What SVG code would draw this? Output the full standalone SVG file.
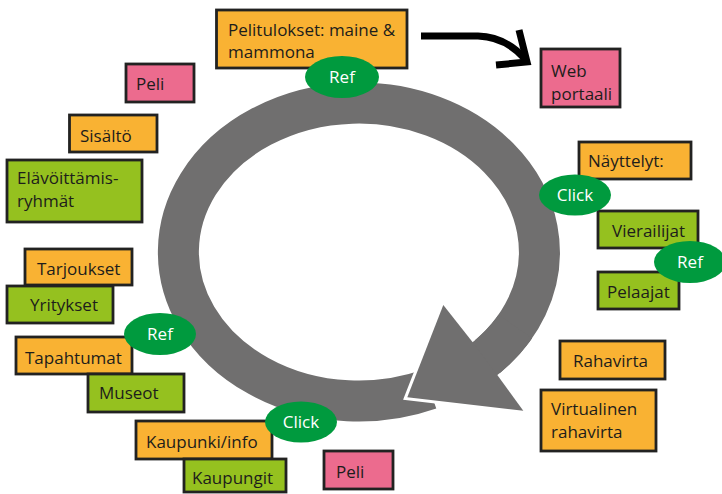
<svg xmlns="http://www.w3.org/2000/svg" width="722" height="494" viewBox="0 0 722 494">
  <style>
    .box { stroke: #222221; stroke-width: 2.8; }
    .orange { fill: #F9B233; }
    .green { fill: #95C11F; }
    .pink { fill: #EC6B8E; }
    .lbl { font-family: "Open Sans", "Noto Sans", sans-serif; font-size: 17px; fill: #1D1D1B; }
    .tag { fill: #009A3E; }
    .tagtxt { font-family: "Open Sans", "Noto Sans", sans-serif; font-size: 17px; fill: #FFFFFF; text-anchor: middle; }
    .ring { fill: none; stroke: #706F6F; stroke-width: 41; }
  </style>

  <!-- connectors: the big cycle arrow and the link arrow to the web portal -->
  <g id="connectors">
    <path class="ring" d="M429.5,389.2 A180.5,149 0 1 1 479.8,362.7"/>
    <polygon points="443.3,305 472.7,342.3 497.3,375 523.3,410.7 407.3,397.3" fill="#706F6F" stroke="#FFFFFF" stroke-width="6" stroke-linejoin="miter"/>
    <path class="ring" d="M515.3,326.5 A180.5,149 0 0 1 479.8,362.7"/>
    <polygon points="443.3,305 472.7,342.3 497.3,375 523.3,410.7 407.3,397.3" fill="#706F6F"/>
    <path d="M421,36 L478,36 Q506,37 525,59" fill="none" stroke="#000" stroke-width="7"/>
    <path d="M519,30 L527,62 L496,65" fill="none" stroke="#000" stroke-width="7" stroke-linejoin="miter"/>
  </g>

  <g id="pelitulokset">
    <rect class="box orange" x="216.5" y="10" width="190.5" height="58"/>
    <text class="lbl" x="228" y="36">Pelitulokset: maine &amp;</text>
    <text class="lbl" x="228" y="58">mammona</text>
  </g>
  <g id="webportaali">
    <rect class="box pink" x="541" y="49" width="79" height="58"/>
    <text class="lbl" x="551" y="77">Web</text>
    <text class="lbl" x="551" y="100">portaali</text>
  </g>
  <g id="peli-top">
    <rect class="box pink" x="126" y="64" width="68" height="38"/>
    <text class="lbl" x="136" y="90">Peli</text>
  </g>
  <g id="sisalto">
    <rect class="box orange" x="69.5" y="115" width="87.5" height="37"/>
    <text class="lbl" x="80" y="142">Sisältö</text>
  </g>
  <g id="elavoittamis">
    <rect class="box green" x="7" y="160" width="135" height="62"/>
    <text class="lbl" x="17" y="184">Elävöittämis-</text>
    <text class="lbl" x="17" y="207">ryhmät</text>
  </g>
  <g id="tarjoukset">
    <rect class="box orange" x="25" y="249" width="107" height="36"/>
    <text class="lbl" x="37" y="275">Tarjoukset</text>
  </g>
  <g id="yritykset">
    <rect class="box green" x="7" y="286" width="106" height="37"/>
    <text class="lbl" x="30" y="311">Yritykset</text>
  </g>
  <g id="tapahtumat">
    <rect class="box orange" x="16" y="337" width="116" height="37"/>
    <text class="lbl" x="25" y="364">Tapahtumat</text>
  </g>
  <g id="museot">
    <rect class="box green" x="88" y="374" width="96" height="38"/>
    <text class="lbl" x="99" y="399">Museot</text>
  </g>
  <g id="kaupunki-info">
    <rect class="box orange" x="136" y="421" width="136" height="38"/>
    <text class="lbl" x="146" y="448">Kaupunki/info</text>
  </g>
  <g id="kaupungit">
    <rect class="box green" x="184" y="459" width="102" height="33"/>
    <text class="lbl" x="192" y="484">Kaupungit</text>
  </g>
  <g id="peli-bottom">
    <rect class="box pink" x="324" y="451" width="69" height="38"/>
    <text class="lbl" x="336" y="478">Peli</text>
  </g>
  <g id="nayttelyt">
    <rect class="box orange" x="579" y="142" width="112" height="37"/>
    <text class="lbl" x="588" y="167">Näyttelyt:</text>
  </g>
  <g id="vierailijat">
    <rect class="box green" x="598" y="211" width="100" height="37"/>
    <text class="lbl" x="612" y="237">Vierailijat</text>
  </g>
  <g id="pelaajat">
    <rect class="box green" x="598" y="272" width="81" height="37"/>
    <text class="lbl" x="607" y="298">Pelaajat</text>
  </g>
  <g id="rahavirta">
    <rect class="box orange" x="560" y="341" width="105" height="38"/>
    <text class="lbl" x="573" y="367">Rahavirta</text>
  </g>
  <g id="virtualinen">
    <rect class="box orange" x="541" y="390" width="115" height="61"/>
    <text class="lbl" x="551" y="415">Virtualinen</text>
    <text class="lbl" x="551" y="438">rahavirta</text>
  </g>

  <g id="ref-top">
    <ellipse class="tag" cx="342" cy="77" rx="37" ry="21"/>
    <text class="tagtxt" x="342" y="83">Ref</text>
  </g>
  <g id="click-right">
    <ellipse class="tag" cx="575" cy="195" rx="36" ry="20.5"/>
    <text class="tagtxt" x="575" y="201">Click</text>
  </g>
  <g id="ref-right">
    <ellipse class="tag" cx="690" cy="262" rx="36" ry="21"/>
    <text class="tagtxt" x="690" y="268">Ref</text>
  </g>
  <g id="ref-left">
    <ellipse class="tag" cx="160" cy="334" rx="36" ry="21"/>
    <text class="tagtxt" x="160" y="340">Ref</text>
  </g>
  <g id="click-bottom">
    <ellipse class="tag" cx="301" cy="422" rx="36" ry="20.5"/>
    <text class="tagtxt" x="301" y="428">Click</text>
  </g>
</svg>
